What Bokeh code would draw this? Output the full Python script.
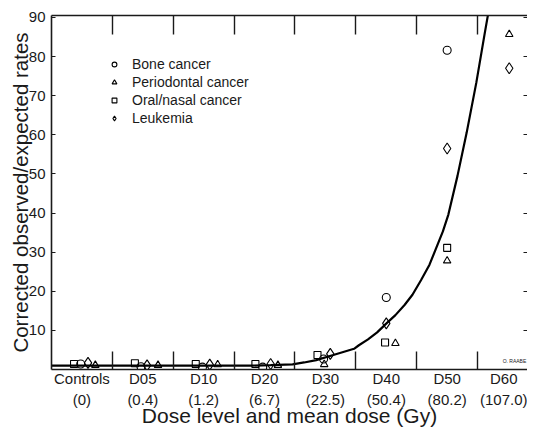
import math
from bokeh.plotting import figure
from bokeh.models import (FixedTicker, LinearAxis, Range1d, Legend, LegendItem,
                          Label, ColumnDataSource)
from bokeh.embed import file_html
from bokeh.resources import INLINE

# ---- data ----
categories = ["Controls", "D05", "D10", "D20", "D30", "D40", "D50", "D60"]
mean_doses = ["0", "0.4", "1.2", "6.7", "22.5", "50.4", "80.2", "107.0"]

bone_cancer = [1.4, 0.7, 0.6, 0.6, 2.7, 18.4, 81.6, None]
periodontal_cancer = [1.1, 1.1, 1.25, 1.1, 1.3, 6.7, 27.8, 85.7]
oral_nasal_cancer = [1.4, 1.6, 1.4, 1.4, 3.7, 6.9, 31.1, None]
leukemia = [1.7, 1.05, 1.25, 1.4, 4.0, 11.8, 56.5, 77.0]

# horizontal jitter of each series within its dose group (fraction of group width)
bone_offset = [-0.02, -0.03, -0.02, -0.03, -0.03, 0.0, 0.0, 0.0]
perio_offset = [0.22, 0.25, 0.23, 0.22, -0.02, 0.15, 0.0, 0.02]
oral_offset = [-0.13, -0.13, -0.13, -0.15, -0.13, -0.02, 0.0, 0.0]
leuk_offset = [0.10, 0.07, 0.10, 0.10, 0.08, 0.0, 0.0, 0.02]

# fitted curve, read along its path (x in dose-group units, y in rate)
curve_x = [0.0, 3.3, 3.6, 3.96, 4.15, 4.35, 4.63, 4.97, 5.05, 5.2, 5.35, 5.49,
           5.65, 5.8, 5.93, 6.07, 6.21, 6.43, 6.52, 6.67, 6.82, 6.98, 7.12, 7.17]
curve_y = [1.0, 1.0, 1.1, 1.3, 1.8, 2.4, 3.7, 5.3, 6.2, 7.7, 9.5, 11.6,
           13.9, 16.5, 19.1, 22.8, 26.8, 35.3, 39.6, 49.5, 60.5, 73.4, 86.2, 90.6]

y_ticks = [10, 20, 30, 40, 50, 60, 70, 80, 90]

FONT = "Liberation Sans"
INK = "#1a1a1a"

p = figure(width=527, height=429, x_range=Range1d(0, 7.82), y_range=Range1d(0, 90.5),
           output_backend="svg", toolbar_location=None,
           x_axis_type=None, y_axis_type=None,
           min_border_left=51, min_border_right=0, min_border_top=15, min_border_bottom=0)
p.outline_line_color = None
p.background_fill_color = "white"
p.border_fill_color = "white"

# left axis
yax = LinearAxis(ticker=FixedTicker(ticks=y_ticks, minor_ticks=[]),
                 major_tick_in=4, major_tick_out=0,
                 axis_line_width=1.6, axis_line_color=INK, major_tick_line_color=INK,
                 major_tick_line_width=1.2,
                 major_label_text_font=FONT, major_label_text_font_size="15px",
                 major_label_text_color=INK, major_label_standoff=6,
                 axis_label="Corrected observed/expected rates",
                 axis_label_text_font=FONT, axis_label_text_font_size="20.5px",
                 axis_label_text_font_style="normal", axis_label_text_color=INK,
                 axis_label_standoff=-6)
p.add_layout(yax, "left")

# right axis: ticks only
rax = LinearAxis(ticker=FixedTicker(ticks=y_ticks, minor_ticks=[]),
                 major_tick_in=4, major_tick_out=0,
                 axis_line_color=None, major_tick_line_color=INK,
                 major_tick_line_width=1.2,
                 major_label_text_font_size="1px", major_label_text_color=None,
                 major_label_standoff=0)
p.add_layout(rax, "right")

# bottom axis: labels at group centres, boundary ticks as minor ticks
centers = [i + 0.5 for i in range(len(categories))]
bounds = [i for i in range(1, len(categories))]
overrides = {c: f"{cat}\n({d})" for c, cat, d in zip(centers, categories, mean_doses)}
xax = LinearAxis(ticker=FixedTicker(ticks=centers, minor_ticks=bounds),
                 major_tick_in=0, major_tick_out=0,
                 minor_tick_in=18, minor_tick_out=0,
                 minor_tick_line_color=INK, minor_tick_line_width=1.4,
                 axis_line_width=1.6, axis_line_color=INK,
                 major_label_overrides=overrides,
                 major_label_text_font=FONT, major_label_text_font_size="15px",
                 major_label_text_line_height=1.25,
                 major_label_text_color=INK, major_label_standoff=0,
                 axis_label="Dose level and mean dose (Gy)",
                 axis_label_text_font=FONT, axis_label_text_font_size="21px",
                 axis_label_text_font_style="normal", axis_label_text_color=INK,
                 axis_label_standoff=-7)
p.add_layout(xax, "below")

# top axis: boundary ticks only
tax = LinearAxis(ticker=FixedTicker(ticks=bounds, minor_ticks=[]),
                 major_tick_in=19, major_tick_out=0,
                 axis_line_width=1.6, axis_line_color=INK,
                 major_tick_line_color=INK, major_tick_line_width=1.4,
                 major_label_text_font_size="1px", major_label_text_color=None,
                 major_label_standoff=0)
p.add_layout(tax, "above")

# curve
p.line(curve_x, curve_y, line_color="black", line_width=2.2)

def series(values, offsets):
    xs, ys = [], []
    for i, (v, o) in enumerate(zip(values, offsets)):
        if v is None:
            continue
        xs.append(i + 0.5 + o)
        ys.append(v)
    return ColumnDataSource(dict(x=xs, y=ys))

common = dict(line_color="black", fill_color=None, line_width=1.1)
r_bone = p.scatter("x", "y", source=series(bone_cancer, bone_offset),
                   marker="circle", size=8, **common)
r_perio = p.scatter("x", "y", source=series(periodontal_cancer, perio_offset),
                    marker="triangle", size=7.5, **common)
r_oral = p.scatter("x", "y", source=series(oral_nasal_cancer, oral_offset),
                   marker="square", size=7, **common)
r_leuk = p.scatter("x", "y", source=series(leukemia, leuk_offset),
                   marker="diamond", size=11, **common)

legend = Legend(items=[LegendItem(label="Bone cancer", renderers=[r_bone]),
                       LegendItem(label="Periodontal cancer", renderers=[r_perio]),
                       LegendItem(label="Oral/nasal cancer", renderers=[r_oral]),
                       LegendItem(label="Leukemia", renderers=[r_leuk])],
                location=(57, 242), padding=0, margin=0, spacing=0,
                label_height=18, glyph_height=18, glyph_width=12, label_standoff=12,
                label_text_font=FONT, label_text_font_size="14px",
                label_text_color=INK, background_fill_alpha=0,
                border_line_color=None)
p.add_layout(legend)

p.add_layout(Label(x=7.8, y=1.4, text="O. RAABE", text_font=FONT,
                   text_font_size="5px", text_align="right", text_baseline="bottom",
                   text_color=INK))

open("out.html", "w").write(file_html(p, INLINE))
